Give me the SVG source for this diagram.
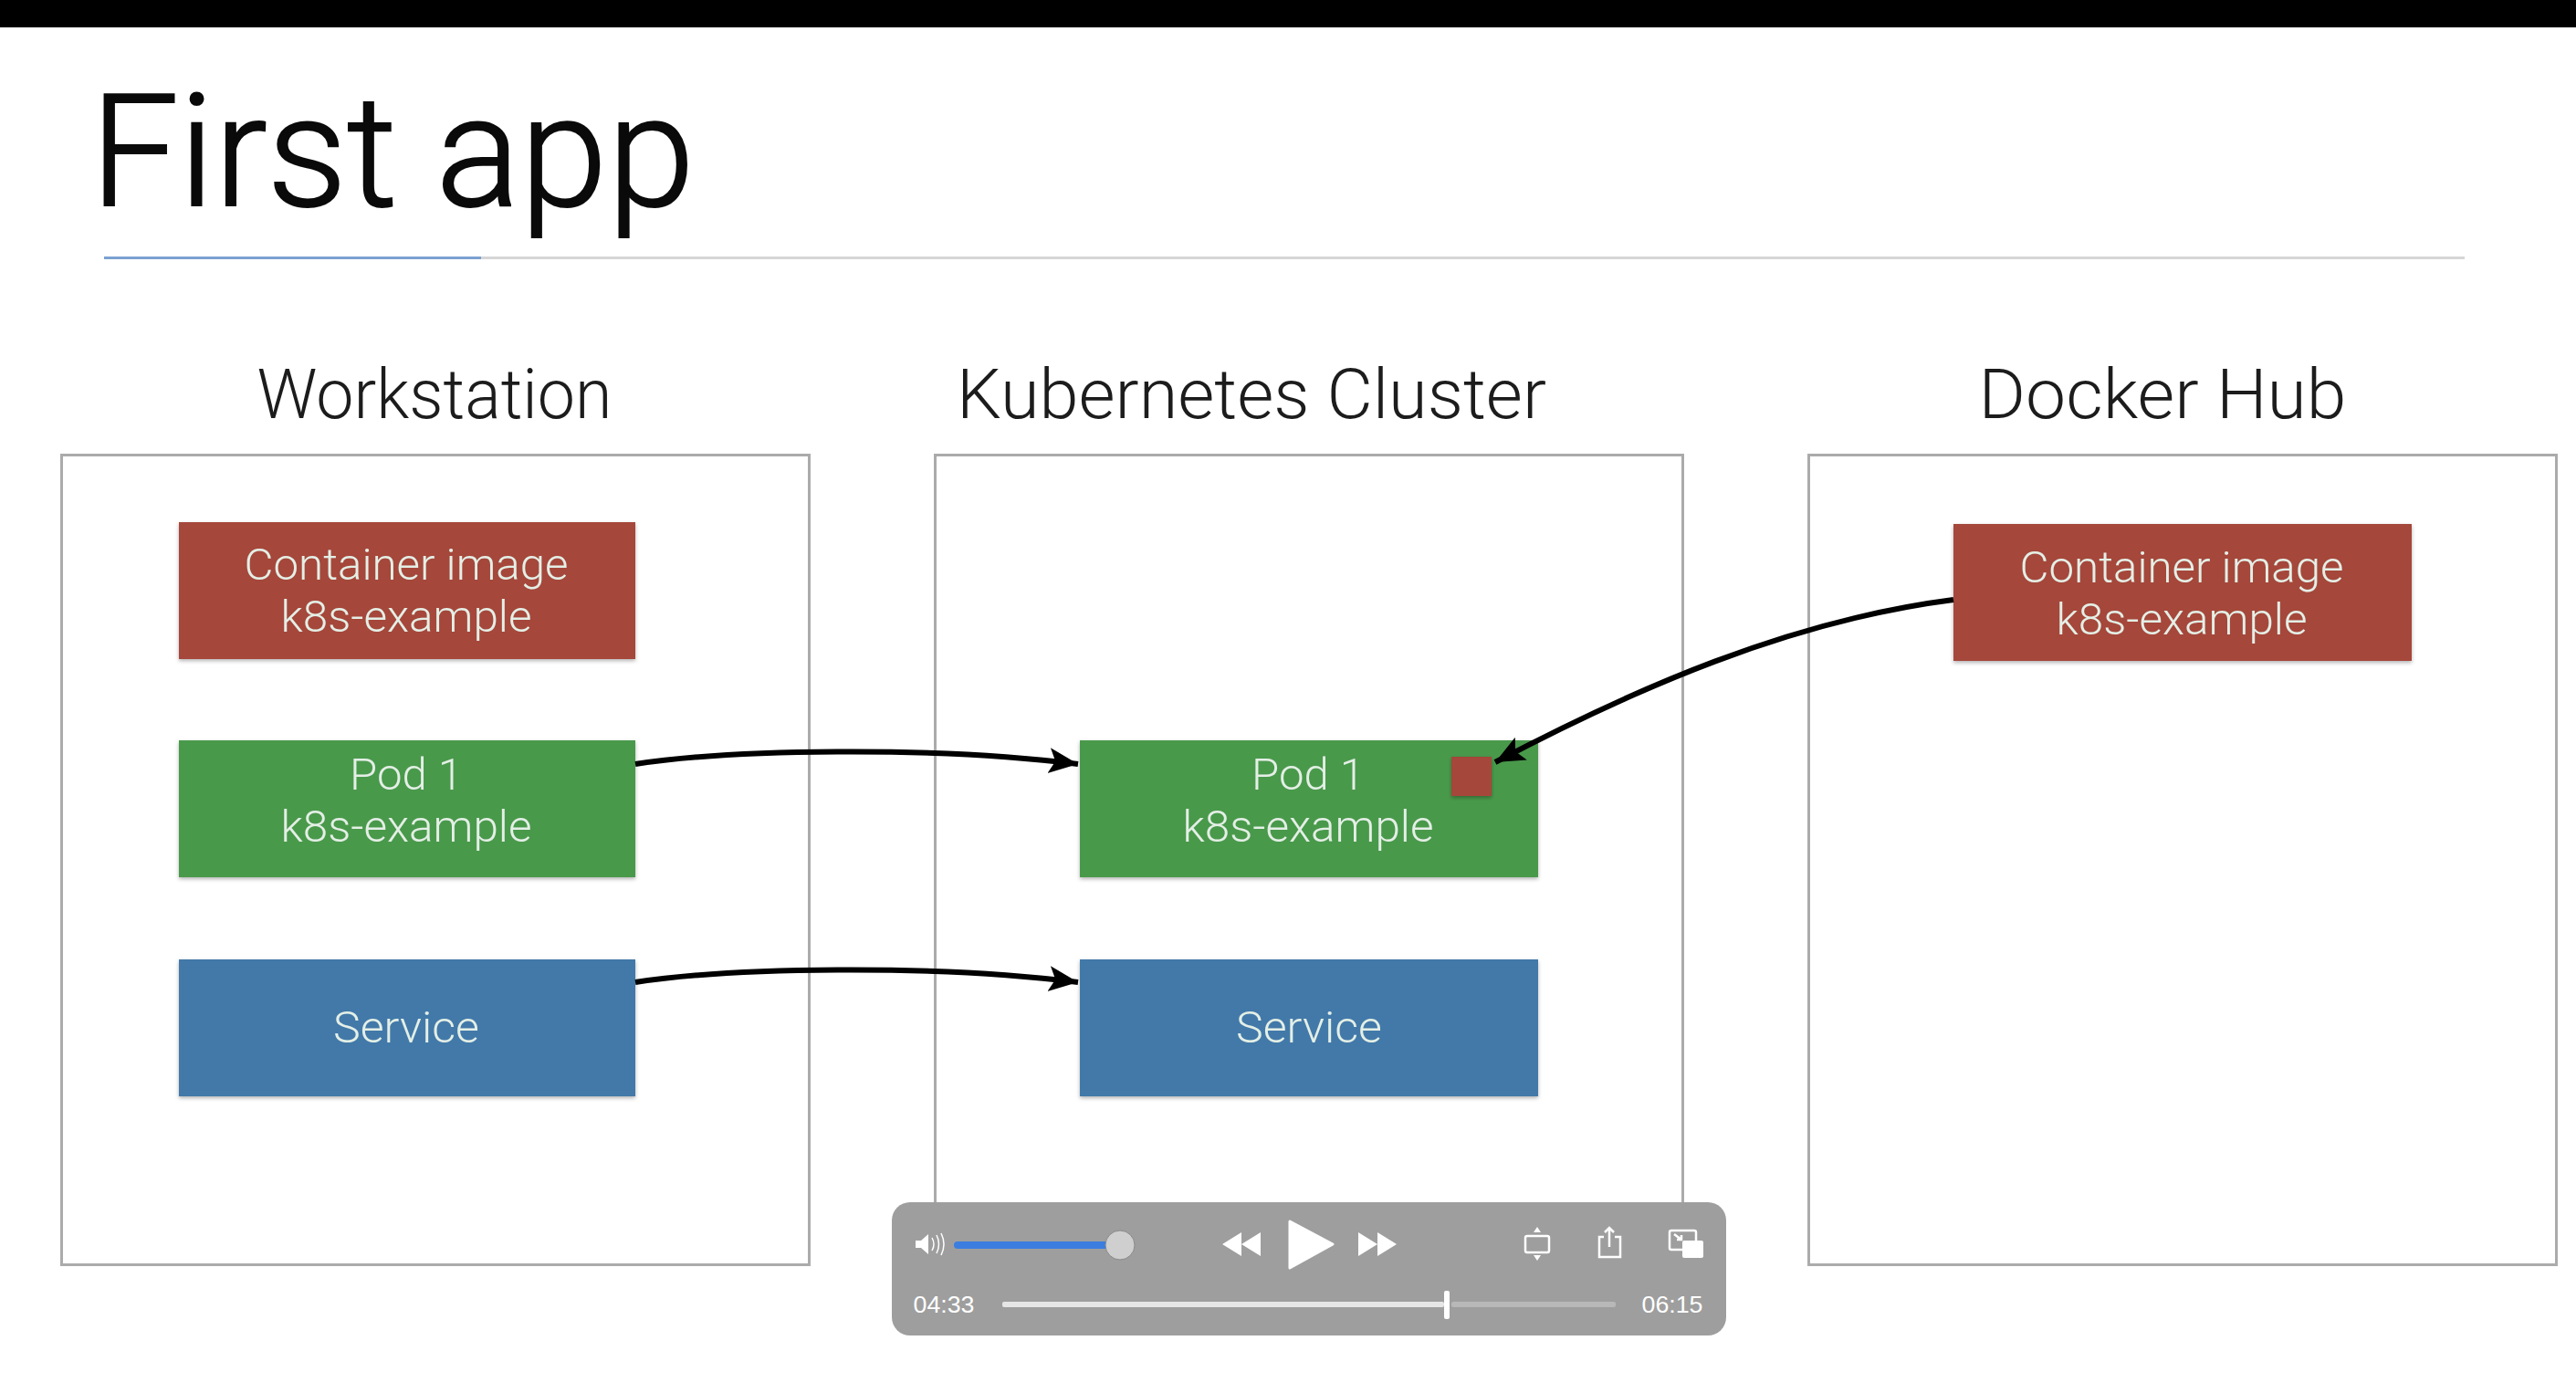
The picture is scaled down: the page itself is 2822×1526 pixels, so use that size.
<svg xmlns="http://www.w3.org/2000/svg" width="2822" height="1526" viewBox="0 0 2822 1526">
<defs>
<marker id="arrow" markerUnits="userSpaceOnUse" markerWidth="36" markerHeight="30" refX="32" refY="15" orient="auto"><path d="M0,1 L32,15 L0,29 L7,15 Z" fill="#000"/></marker>
<filter id="soft" x="-5%" y="-5%" width="110%" height="115%"><feDropShadow dx="0" dy="2" stdDeviation="2" flood-color="#000" flood-opacity="0.3"/></filter>
</defs>
<style>
text{font-family:Roboto,"Liberation Sans",Arial,sans-serif;font-weight:300}
.frame{fill:#fff;stroke:#ababab;stroke-width:3}
.head{font-size:76px;fill:#1c1c1c;text-anchor:middle}
.lbl{font-size:48px;fill:#e4efe6;text-anchor:middle}
.red{fill:#a5473a;filter:url(#soft)}
.green{fill:#4a994c;filter:url(#soft)}
.blue{fill:#4379a9;filter:url(#soft)}
.conn{fill:none;stroke:#000;stroke-width:6;marker-end:url(#arrow)}
.time{font-family:"Liberation Sans",Arial,sans-serif;font-weight:400;font-size:26px;fill:#fff;text-anchor:middle}
.ico{fill:#fff}
.icol{fill:none;stroke:#fff;stroke-width:2.5}
</style>
<rect width="2822" height="1526" fill="#fff"/>
<rect width="2822" height="30" fill="#000"/>
<g id="title">
<text x="99" y="225" font-size="170" fill="#0a0a0a" stroke="#0a0a0a" stroke-width="2" textLength="662" lengthAdjust="spacingAndGlyphs">First app</text>
<rect x="114" y="281" width="2586" height="3" fill="#d6d6d6"/>
<rect x="114" y="281" width="413" height="3" fill="#7ba1d0"/>
</g>
<g id="workstation">
<rect class="frame" x="67.500" y="498.500" width="819" height="887"/>
<text class="head" x="476" y="458" textLength="389" lengthAdjust="spacingAndGlyphs">Workstation</text>
</g>
<g id="cluster">
<rect class="frame" x="1024.500" y="498.500" width="819" height="887"/>
<text class="head" x="1371" y="458" textLength="646" lengthAdjust="spacingAndGlyphs">Kubernetes Cluster</text>
</g>
<g id="hub">
<rect class="frame" x="1981.500" y="498.500" width="819" height="887"/>
<text class="head" x="2369" y="458" textLength="403" lengthAdjust="spacingAndGlyphs">Docker Hub</text>
</g>
<g id="ws-image">
<rect class="red" x="196" y="572" width="500" height="150"/>
<text class="lbl" x="445" y="635" textLength="355" lengthAdjust="spacingAndGlyphs">Container image</text>
<text class="lbl" x="445" y="692" textLength="275" lengthAdjust="spacingAndGlyphs">k8s-example</text>
</g>
<g id="ws-pod">
<rect class="green" x="196" y="811" width="500" height="150"/>
<text class="lbl" x="445" y="865" textLength="124" lengthAdjust="spacingAndGlyphs">Pod 1</text>
<text class="lbl" x="445" y="922" textLength="275" lengthAdjust="spacingAndGlyphs">k8s-example</text>
</g>
<g id="ws-service">
<rect class="blue" x="196" y="1051" width="500" height="150"/>
<text class="lbl" x="445" y="1142" textLength="160" lengthAdjust="spacingAndGlyphs">Service</text>
</g>
<g id="k8s-pod">
<rect class="green" x="1183" y="811" width="502" height="150"/>
<text class="lbl" x="1433" y="865" textLength="124" lengthAdjust="spacingAndGlyphs">Pod 1</text>
<text class="lbl" x="1433" y="922" textLength="275" lengthAdjust="spacingAndGlyphs">k8s-example</text>
<rect class="red" x="1590" y="829" width="44" height="43"/>
</g>
<g id="k8s-service">
<rect class="blue" x="1183" y="1051" width="502" height="150"/>
<text class="lbl" x="1434" y="1142" textLength="160" lengthAdjust="spacingAndGlyphs">Service</text>
</g>
<g id="hub-image">
<rect class="red" x="2140" y="574" width="502" height="150"/>
<text class="lbl" x="2390" y="638" textLength="355" lengthAdjust="spacingAndGlyphs">Container image</text>
<text class="lbl" x="2390" y="695" textLength="275" lengthAdjust="spacingAndGlyphs">k8s-example</text>
</g>
<g id="connectors">
<path class="conn" d="M696,837 C800,821 1020,817 1181,837"/>
<path class="conn" d="M696,1076 C800,1060 1020,1056 1181,1076"/>
<path class="conn" d="M2140,657 C1960,680 1790,755 1638,835"/>
</g>
<g id="player">
<rect x="977" y="1317" width="914" height="146" rx="20" fill="#9e9e9e"/>
<path class="ico" d="M1003,1359 H1009 L1017,1352 V1374 L1009,1367 H1003 Z"/>
<path class="icol" style="stroke-width:1.500" d="M1021,1356 Q1025,1363 1021,1370 M1026,1353 Q1031,1363 1026,1373 M1031,1351 Q1037,1363 1031,1375"/>
<rect x="1045" y="1360" width="175" height="8" rx="4" fill="#3c7de0"/>
<ellipse cx="1227" cy="1364" rx="16" ry="16" fill="#cfcfcf" stroke="#8a8a8a" stroke-width="1"/>
<path class="ico" d="M1339,1363 L1360,1350 V1376 Z M1360,1363 L1381,1350 V1376 Z"/>
<path class="ico" stroke="#fff" stroke-width="3" stroke-linejoin="round" d="M1413,1338 L1460,1363 L1413,1389 Z"/>
<path class="ico" d="M1488,1350 L1509,1363 L1488,1376 Z M1509,1350 L1530,1363 L1509,1376 Z"/>
<rect class="icol" x="1671" y="1354" width="26" height="18" rx="2"/>
<path class="ico" d="M1684,1344 L1688,1350 H1680 Z M1684,1381 L1688,1375 H1680 Z"/>
<path class="icol" d="M1757,1355 H1752 V1377 H1775 V1355 H1769 M1763,1366 V1345 M1758,1350 L1763,1345 L1768,1350"/>
<rect class="icol" x="1829" y="1348" width="29" height="21" rx="2"/>
<rect class="ico" x="1843" y="1359" width="23" height="19" rx="2"/>
<path class="icol" d="M1834,1352 L1842,1358 M1842,1353 V1358 H1837"/>
<rect x="1098" y="1426" width="484" height="6" rx="2" fill="#e6e6e6"/>
<rect x="1590" y="1426" width="180" height="6" rx="2" fill="#b8b8b8"/>
<rect x="1582" y="1414" width="6" height="31" rx="2" fill="#fff"/>
<text class="time" x="1034" y="1438" textLength="67" lengthAdjust="spacingAndGlyphs">04:33</text>
<text class="time" x="1832" y="1438" textLength="67" lengthAdjust="spacingAndGlyphs">06:15</text>
</g>
</svg>
